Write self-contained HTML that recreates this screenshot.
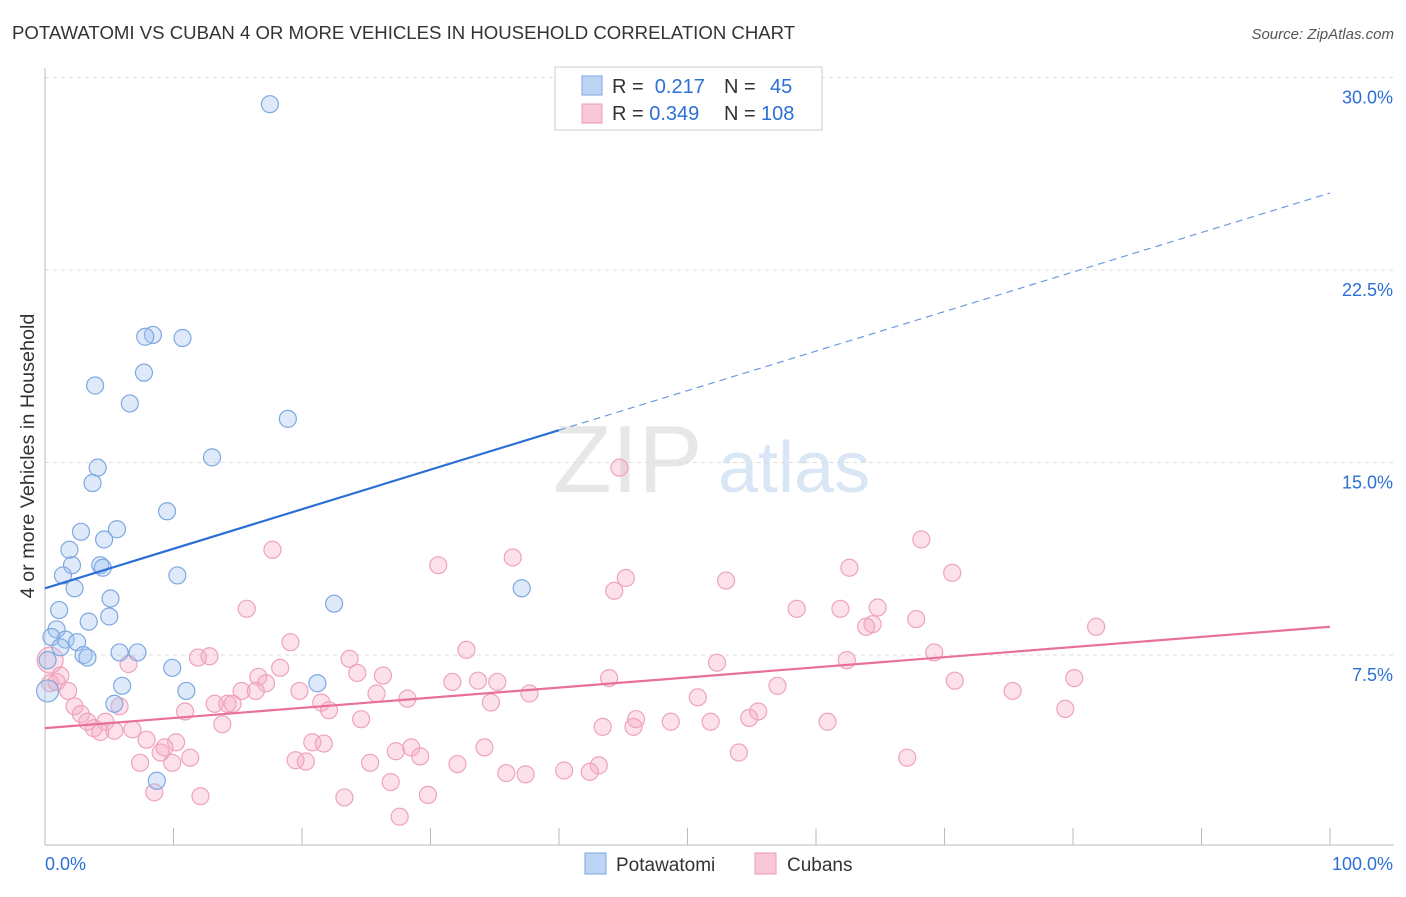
<!DOCTYPE html>
<html><head><meta charset="utf-8"><style>
body{margin:0;background:#fff;font-family:"Liberation Sans",sans-serif;}
svg text{font-family:"Liberation Sans",sans-serif;}
</style></head><body>
<svg id="chart" width="1406" height="892" xmlns="http://www.w3.org/2000/svg">
<text x="12" y="39" font-size="18.6" fill="#333">POTAWATOMI VS CUBAN 4 OR MORE VEHICLES IN HOUSEHOLD CORRELATION CHART</text>
<text x="1394" y="39" font-size="15" fill="#555" font-style="italic" text-anchor="end">Source: ZipAtlas.com</text>
<text transform="translate(34,456) rotate(-90)" font-size="19.8" fill="#333" text-anchor="middle">4 or more Vehicles in Household</text>
<g><text x="553" y="492" font-size="96" fill="#ddd" font-family="Liberation Serif" opacity="0.7">ZIP</text><text x="718" y="492" font-size="72" fill="#c8dcf2" opacity="0.7">atlas</text></g>
<g id="grid"></g><g id="axes"></g><g id="pink"></g><g id="blue"></g><g id="lines"></g>
<g>
<rect x="555" y="67" width="267" height="63" fill="#fff" stroke="#ccc"/>
<rect x="582" y="76" width="20" height="19" fill="#bcd5f5" stroke="#7aa6e0"/>
<rect x="582" y="104" width="20" height="19" fill="#f9c8d6" stroke="#ec9ab2"/>
<text x="612" y="93" font-size="20" fill="#333">R = <tspan fill="#2c6fd6">&#160;0.217</tspan><tspan x="724">N = </tspan><tspan x="770" fill="#2c6fd6">45</tspan></text>
<text x="612" y="120" font-size="20" fill="#333">R = <tspan fill="#2c6fd6">0.349</tspan><tspan x="724">N = </tspan><tspan x="761" fill="#2c6fd6">108</tspan></text>
</g>
<g>
<rect x="585" y="853" width="21" height="21" fill="#bcd5f5" stroke="#7aa6e0"/><text x="616" y="871" font-size="19" fill="#333">Potawatomi</text>
<rect x="755" y="853" width="21" height="21" fill="#f9c8d6" stroke="#ec9ab2"/><text x="787" y="871" font-size="19" fill="#333">Cubans</text>
</g>
</svg>
<script>
const blueX=[17.5,8.4,7.8,10.7,7.7,3.9,6.6,18.9,13.0,4.1,3.7,9.5,2.8,5.6,4.6,1.9,2.1,4.3,4.5,1.4,10.3,2.3,37.1,5.1,1.1,22.5,5.0,3.4,0.9,0.5,1.6,2.5,1.2,5.8,7.2,3.0,3.3,0.2,9.9,6.0,11.0,21.2,0.2,5.4,8.7];
const blueY=[28.96,19.97,19.9,19.85,18.5,18.0,17.3,16.7,15.2,14.8,14.2,13.1,12.3,12.4,12.0,11.6,11.0,11.0,10.9,10.6,10.6,10.1,10.1,9.7,9.25,9.5,9.0,8.8,8.5,8.2,8.1,8.0,7.8,7.6,7.6,7.5,7.4,7.3,7.0,6.3,6.1,6.4,6.1,5.6,2.6];
const pinkX=[44.7,68.2,17.7,36.4,30.6,62.6,70.6,45.2,53.0,44.3,15.7,58.5,61.9,64.8,67.8,64.4,63.9,81.8,19.1,32.8,69.2,12.8,11.9,23.7,62.4,52.3,6.5,18.3,24.3,26.3,16.6,17.2,1.2,0.4,0.9,31.7,33.7,35.2,43.9,57.0,70.8,80.1,1.8,15.3,16.4,19.8,25.8,37.7,75.3,50.8,28.2,13.2,14.2,14.6,21.5,34.7,2.3,5.8,10.9,22.1,55.5,79.4,2.8,24.6,54.8,3.3,46.0,48.7,51.8,60.9,4.7,3.8,43.4,45.8,13.8,4.3,5.4,6.8,7.9,10.2,20.8,21.7,9.3,9.0,28.5,27.3,34.2,54.0,29.2,11.3,67.1,19.5,20.3,7.4,9.9,25.3,32.1,43.1,40.4,42.4,35.9,37.4,26.9,8.5,12.1,23.3,29.8,27.6,0.4];
const pinkY=[14.8,12.0,11.6,11.3,11.0,10.9,10.7,10.5,10.4,10.0,9.3,9.3,9.3,9.35,8.9,8.7,8.6,8.6,8.0,7.7,7.6,7.45,7.4,7.35,7.3,7.2,7.15,7.0,6.8,6.7,6.65,6.4,6.7,6.4,6.45,6.45,6.5,6.45,6.6,6.3,6.5,6.6,6.1,6.1,6.1,6.1,6.0,6.0,6.1,5.85,5.8,5.6,5.6,5.6,5.65,5.65,5.5,5.5,5.3,5.35,5.3,5.4,5.2,5.0,5.05,4.9,5.0,4.9,4.9,4.9,4.9,4.65,4.7,4.7,4.8,4.5,4.55,4.6,4.2,4.1,4.1,4.05,3.9,3.7,3.9,3.75,3.9,3.7,3.55,3.5,3.5,3.4,3.35,3.3,3.3,3.3,3.25,3.2,3.0,2.95,2.9,2.85,2.55,2.15,2.0,1.95,2.05,1.2,7.3];
const yTicks=[7.5,15.0,22.5,30.0];
const xTickLabels=["0.0%","100.0%"];
const blueTrend=[10.1,25.5];
const pinkTrend=[4.65,8.6];
const NS="http://www.w3.org/2000/svg";
const xs=v=>45+v*12.85, ys=v=>847.5-v*25.667;
function mk(t,a,p){const e=document.createElementNS(NS,t);for(const k in a)e.setAttribute(k,a[k]);p.appendChild(e);return e;}
const grid=document.getElementById('grid'),axes=document.getElementById('axes');
yTicks.forEach(t=>{const l=mk('line',{x1:45,x2:1394,y1:ys(t),y2:ys(t),stroke:'#ddd','stroke-dasharray':'4,4'},grid);


const tx=mk('text',{x:1393,y:ys(t)+26,'font-size':18,fill:'#2c6fd6','text-anchor':'end'},axes);tx.textContent=t.toFixed(1)+'%';

});
const ax=mk('line',{x1:45,x2:1394,y1:845,y2:845,stroke:'#bbb'},axes);


const ay=mk('line',{x1:45,x2:45,y1:68,y2:845,stroke:'#bbb'},axes);


for(let i=1;i<=10;i++){const tk=mk('line',{x1:xs(i*10),x2:xs(i*10),y1:828,y2:845,stroke:'#bbb'},axes);

}
xTickLabels.forEach((s,i)=>{const t=mk('text',{x:i?1393:45,y:870,'font-size':18,fill:'#2c6fd6','text-anchor':i?'end':'start'},axes);t.textContent=s;

});
const pg=document.getElementById('pink'),bg=document.getElementById('blue');
pinkX.forEach((x,i)=>{const c=mk('circle',{cx:xs(x),cy:ys(pinkY[i]),r:i==pinkX.length-1?13:8.5,fill:'rgba(246,170,195,0.35)',stroke:'#eea3bb','stroke-width':1.2},pg);

});
blueX.forEach((x,i)=>{const c=mk('circle',{cx:xs(x),cy:ys(blueY[i]),r:i==42?11:8.5,fill:'rgba(160,195,240,0.35)',stroke:'#7ea8e0','stroke-width':1.2},bg);

});
const lg=document.getElementById('lines');
const by=x=>blueTrend[0]+(blueTrend[1]-blueTrend[0])*x/100;
const b1=mk('line',{x1:xs(0),y1:ys(by(0)),x2:xs(40),y2:ys(by(40)),stroke:'#2c6fd6','stroke-width':2.2},lg);


const b2=mk('line',{x1:xs(40),y1:ys(by(40)),x2:xs(100),y2:ys(by(100)),stroke:'#6b9ae0','stroke-width':1.2,'stroke-dasharray':'7,5'},lg);


const p1=mk('line',{x1:xs(0),y1:ys(pinkTrend[0]),x2:xs(100),y2:ys(pinkTrend[1]),stroke:'#e8709a','stroke-width':2.2},lg);


</script>
</body></html>
